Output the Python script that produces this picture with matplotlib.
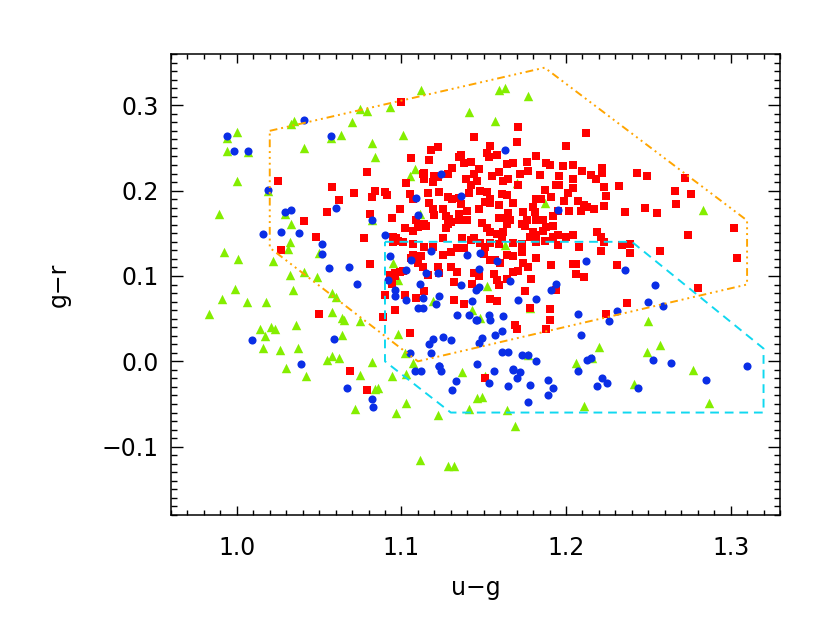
import numpy as np
import matplotlib
matplotlib.use('Agg')
import matplotlib.pyplot as plt
from matplotlib.ticker import MultipleLocator

# Cuadrados rojos (u-g, g-r)
red_ug = [1.025, 1.058, 1.079, 1.071, 1.062, 1.084, 1.082, 1.055, 1.081,
          1.100, 1.171, 1.144, 1.170, 1.200, 1.154, 1.122, 1.118, 1.152, 1.158,
          1.136, 1.135, 1.153, 1.106, 1.117, 1.182, 1.164, 1.168, 1.176, 1.188,
          1.190, 1.198, 1.204, 1.138, 1.142, 1.131, 1.147, 1.114, 1.120, 1.128,
          1.144, 1.155, 1.159, 1.172, 1.177, 1.184, 1.196, 1.204, 1.113, 1.114,
          1.119, 1.122, 1.103, 1.139, 1.142, 1.146, 1.162, 1.165, 1.171, 1.194,
          1.196, 1.204, 1.187, 1.090, 1.091, 1.123, 1.128, 1.131, 1.135, 1.141,
          1.148, 1.152, 1.154, 1.161, 1.164, 1.159, 1.168, 1.182, 1.185, 1.191,
          1.199, 1.201, 1.116, 1.117, 1.107, 1.105, 1.099, 1.119, 1.125, 1.136,
          1.140, 1.147, 1.151, 1.154, 1.165, 1.174, 1.180, 1.181, 1.202,
          1.212, 1.210, 1.222, 1.222, 1.215, 1.218, 1.223, 1.232, 1.243, 1.249,
          1.272, 1.266, 1.276, 1.224, 1.207, 1.211, 1.213, 1.217, 1.223, 1.209,
          1.236, 1.248, 1.255, 1.267,
          1.041, 1.048, 1.077, 1.027, 1.081, 1.050, 1.069, 1.079, 1.151,
          1.204, 1.219, 1.221, 1.223, 1.208, 1.221, 1.234, 1.239, 1.239, 1.257,
          1.274, 1.302, 1.304, 1.204, 1.206, 1.206, 1.211, 1.231, 1.280, 1.237,
          1.224,
          1.094, 1.120, 1.127, 1.129, 1.135, 1.135, 1.159, 1.161, 1.176, 1.182,
          1.186, 1.192, 1.195, 1.109, 1.114, 1.115, 1.128, 1.130, 1.140, 1.149,
          1.152, 1.154, 1.158, 1.162, 1.164, 1.166, 1.173, 1.175, 1.180, 1.182,
          1.186, 1.188, 1.192, 1.195, 1.102, 1.107, 1.110, 1.127, 1.095, 1.097,
          1.095, 1.098, 1.101, 1.107, 1.125, 1.134, 1.137, 1.142, 1.144, 1.148,
          1.151, 1.154, 1.159, 1.161, 1.168, 1.173, 1.178, 1.182, 1.187, 1.192,
          1.195, 1.200, 1.107, 1.106, 1.112, 1.110, 1.113, 1.114, 1.119, 1.125,
          1.130, 1.138, 1.150, 1.154, 1.157, 1.160, 1.164, 1.168, 1.173, 1.174,
          1.177, 1.182, 1.191, 1.122, 1.130, 1.093, 1.096, 1.099, 1.101, 1.094,
          1.096, 1.094, 1.116, 1.123, 1.134, 1.144, 1.147, 1.156, 1.158, 1.159,
          1.164, 1.168, 1.171, 1.179, 1.132, 1.143, 1.102, 1.109, 1.114, 1.090,
          1.096, 1.089, 1.132, 1.138, 1.154, 1.158, 1.175, 1.178, 1.190, 1.194,
          1.190, 1.169, 1.170, 1.188, 1.105]
red_gr = [0.211, 0.204, 0.222, 0.197, 0.189, 0.199, 0.193, 0.175, 0.172,
          0.304, 0.275, 0.263, 0.257, 0.252, 0.252, 0.251, 0.248, 0.244, 0.242,
          0.242, 0.239, 0.239, 0.238, 0.236, 0.241, 0.231, 0.232, 0.233, 0.232,
          0.230, 0.229, 0.230, 0.232, 0.233, 0.227, 0.225, 0.221, 0.217, 0.219,
          0.219, 0.217, 0.222, 0.220, 0.223, 0.218, 0.217, 0.213, 0.219, 0.213,
          0.210, 0.216, 0.209, 0.213, 0.207, 0.211, 0.211, 0.214, 0.206, 0.207,
          0.206, 0.203, 0.201, 0.198, 0.195, 0.198, 0.193, 0.190, 0.191, 0.197,
          0.199, 0.198, 0.190, 0.196, 0.195, 0.183, 0.185, 0.190, 0.190, 0.193,
          0.188, 0.197, 0.197, 0.186, 0.190, 0.196, 0.178, 0.179, 0.178, 0.184,
          0.176, 0.178, 0.187, 0.186, 0.174, 0.175, 0.181, 0.175, 0.176,
          0.267, 0.223, 0.226, 0.221, 0.218, 0.214, 0.204, 0.205, 0.221, 0.217,
          0.215, 0.200, 0.196, 0.194, 0.188, 0.183, 0.181, 0.179, 0.182, 0.176,
          0.175, 0.180, 0.174, 0.184,
          0.164, 0.146, 0.145, 0.130, 0.114, 0.056, -0.011, -0.033, -0.019,
          0.148, 0.152, 0.146, 0.140, 0.134, 0.129, 0.136, 0.137, 0.127, 0.129,
          0.148, 0.156, 0.121, 0.114, 0.114, 0.102, 0.099, 0.113, 0.086, 0.068,
          0.056,
          0.168, 0.171, 0.170, 0.167, 0.172, 0.166, 0.168, 0.168, 0.166, 0.166,
          0.166, 0.170, 0.176, 0.165, 0.161, 0.158, 0.161, 0.163, 0.166, 0.162,
          0.156, 0.152, 0.149, 0.151, 0.161, 0.165, 0.161, 0.158, 0.152, 0.148,
          0.153, 0.157, 0.158, 0.148, 0.156, 0.153, 0.157, 0.156, 0.146, 0.145,
          0.140, 0.141, 0.140, 0.138, 0.144, 0.133, 0.144, 0.142, 0.145, 0.139,
          0.134, 0.139, 0.138, 0.144, 0.139, 0.138, 0.146, 0.140, 0.141, 0.146,
          0.136, 0.146, 0.125, 0.121, 0.123, 0.115, 0.111, 0.134, 0.134, 0.125,
          0.128, 0.133, 0.126, 0.119, 0.119, 0.115, 0.125, 0.123, 0.128, 0.115,
          0.111, 0.121, 0.113, 0.111, 0.110, 0.101, 0.103, 0.105, 0.106, 0.095,
          0.100, 0.091, 0.101, 0.103, 0.105, 0.103, 0.100, 0.102, 0.095, 0.089,
          0.096, 0.105, 0.106, 0.096, 0.093, 0.091, 0.078, 0.074, 0.082, 0.078,
          0.060, 0.052, 0.072, 0.067, 0.073, 0.071, 0.082, 0.062, 0.061, 0.084,
          0.049, 0.043, 0.038, 0.038, 0.033]

# Circulos azules
blue_ug = [1.041, 0.994, 1.057, 0.998, 1.007, 1.019, 1.029, 1.033, 1.060,
           1.163, 1.124, 1.136, 1.109, 1.195, 1.110,
           1.016, 1.027, 1.038, 1.052, 1.052, 1.056, 1.068, 1.073, 1.009, 1.059,
           1.039, 1.082,
           1.067, 1.082, 1.083,
           1.108, 1.112, 1.123, 1.124, 1.133, 1.131, 1.156, 1.153, 1.168, 1.172,
           1.170, 1.165, 1.178, 1.177, 1.189, 1.192, 1.189,
           1.207, 1.219, 1.222, 1.225, 1.244, 1.285, 1.310,
           1.212, 1.236, 1.254, 1.250, 1.259, 1.231, 1.226, 1.207, 1.209, 1.215,
           1.213, 1.253, 1.264,
           1.090, 1.093, 1.118, 1.140, 1.148, 1.158, 1.106, 1.103, 1.115, 1.122,
           1.147, 1.092, 1.111, 1.136, 1.145, 1.147, 1.166, 1.194, 1.191, 1.096,
           1.096, 1.103, 1.113, 1.123, 1.121, 1.110, 1.113, 1.143, 1.171, 1.182,
           1.134, 1.141, 1.145, 1.146, 1.153, 1.154, 1.162, 1.161, 1.157, 1.149,
           1.147, 1.125, 1.130, 1.119, 1.117, 1.118, 1.105, 1.161, 1.165, 1.173,
           1.177, 1.182, 1.123, 1.146, 1.168]
blue_gr = [0.283, 0.264, 0.264, 0.246, 0.246, 0.201, 0.175, 0.177, 0.180,
           0.248, 0.220, 0.194, 0.191, 0.177, 0.171,
           0.149, 0.151, 0.150, 0.137, 0.126, 0.109, 0.111, 0.091, 0.025, 0.026,
           -0.003, 0.166,
           -0.031, -0.044, -0.054,
           -0.011, -0.011, -0.006, -0.011, -0.023, -0.034, -0.011, -0.025, -0.010,
           -0.013, -0.019, -0.029, -0.028, -0.048, -0.022, -0.031, -0.040,
           -0.011, -0.029, -0.020, -0.025, -0.031, -0.022, -0.005,
           0.117, 0.107, 0.090, 0.069, 0.065, 0.059, 0.047, 0.055, 0.031, 0.004,
           0.001, 0.001, -0.002,
           0.148, 0.123, 0.129, 0.124, 0.127, 0.118, 0.119, 0.107, 0.103, 0.104,
           0.108, 0.095, 0.091, 0.089, 0.084, 0.087, 0.094, 0.091, 0.084, 0.084,
           0.077, 0.072, 0.074, 0.077, 0.067, 0.062, 0.062, 0.071, 0.072, 0.073,
           0.054, 0.054, 0.049, 0.048, 0.054, 0.049, 0.053, 0.036, 0.031, 0.027,
           0.022, 0.029, 0.025, 0.026, 0.020, 0.010, 0.010, 0.011, 0.011, 0.008,
           0.008, 0.000, -0.005, -0.003, -0.009]

# Triangulos verdes
green_ug = [1.000, 1.035, 1.033, 1.075, 1.079, 1.070, 1.063, 1.041, 0.994,
            1.007, 1.082, 1.084, 1.000, 0.989, 1.019, 0.994, 1.057,
            1.112, 1.093, 1.159, 1.163, 1.177, 1.141, 1.157, 1.101, 1.108, 1.105,
            1.170, 1.187, 1.283,
            1.033, 1.032, 1.031, 1.050, 0.992, 1.001, 1.022, 1.032, 1.041, 1.049,
            0.999, 1.034, 0.991, 1.006, 1.018, 0.983, 1.058, 1.060, 1.058, 1.064,
            1.065, 1.075, 1.014, 1.021, 1.023, 1.036, 1.017, 1.064, 1.016, 1.026,
            1.037, 1.055, 1.058, 1.062, 1.082, 1.030, 1.029,
            1.042, 1.075, 1.084, 1.072,
            1.094, 1.103, 1.086, 1.103, 1.097, 1.122, 1.137, 1.141, 1.146, 1.149,
            1.164, 1.169, 1.111, 1.128, 1.132, 1.151,
            1.241, 1.277, 1.211, 1.287,
            1.250, 1.220, 1.257, 1.249, 1.206, 1.216,
            1.095, 1.098, 1.152, 1.119, 1.143, 1.148, 1.163, 1.178, 1.098, 1.102,
            1.107, 1.177, 1.082, 1.111]
green_gr = [0.269, 0.281, 0.278, 0.296, 0.293, 0.280, 0.265, 0.250, 0.246,
            0.245, 0.256, 0.239, 0.211, 0.172, 0.200, 0.262, 0.262,
            0.318, 0.298, 0.318, 0.320, 0.311, 0.292, 0.281, 0.265, 0.225, 0.217,
            0.209, 0.185, 0.177,
            0.161, 0.140, 0.131, 0.127, 0.128, 0.120, 0.117, 0.101, 0.105, 0.099,
            0.085, 0.084, 0.073, 0.069, 0.070, 0.055, 0.080, 0.075, 0.058, 0.051,
            0.049, 0.047, 0.038, 0.040, 0.038, 0.043, 0.030, 0.031, 0.016, 0.013,
            0.016, 0.001, 0.006, 0.004, -0.001, -0.008, 0.172,
            -0.017, -0.016, -0.032, -0.056,
            -0.017, -0.015, -0.031, -0.049, -0.061, -0.063, -0.012, -0.056, -0.043,
            -0.042, -0.057, -0.076, -0.116, -0.123, -0.123, -0.017,
            -0.027, -0.010, -0.052, -0.049,
            0.047, 0.017, 0.019, 0.011, -0.002, 0.004,
            0.115, 0.095, 0.088, 0.071, 0.060, 0.051, 0.136, 0.062, 0.032, 0.010,
            -0.002, 0.008, 0.165, 0.172]

# Regiones de seleccion
orange_ug = [1.02, 1.187, 1.31, 1.31, 1.11, 1.02, 1.02]
orange_gr = [0.27, 0.344, 0.165, 0.09, 0.0, 0.133, 0.27]
cyan_ug = [1.09, 1.24, 1.32, 1.32, 1.13, 1.09, 1.09]
cyan_gr = [0.14, 0.14, 0.015, -0.06, -0.06, 0.0, 0.14]

plt.rcParams['font.family'] = 'DejaVu Sans'
plt.rcParams['font.size'] = 17

fig = plt.figure(figsize=(8.3, 6.24), dpi=100)
ax = fig.add_axes([171 / 830, 109 / 624, 609 / 830, 461 / 624])

ax.scatter(green_ug, green_gr, s=46, marker='^', c='#84ee00', linewidths=0, zorder=2)
ax.scatter(red_ug, red_gr, s=28, marker='s', c='#ff0000', linewidths=0, zorder=3)
ax.scatter(blue_ug, blue_gr, s=34, marker='o', c='#0a2ee6', linewidths=0, zorder=4)

ax.plot(orange_ug, orange_gr, color='#ffa500', lw=1.4,
        linestyle=(0, (4, 2, 1, 2, 1, 2, 1, 2)), zorder=5)
ax.plot(cyan_ug, cyan_gr, color='#10d8f0', lw=1.4,
        linestyle=(0, (4.5, 3)), zorder=5)

ax.set_xlim(0.96, 1.33)
ax.set_ylim(-0.18, 0.36)
ax.xaxis.set_major_locator(MultipleLocator(0.1))
ax.xaxis.set_minor_locator(MultipleLocator(0.01))
ax.yaxis.set_major_locator(MultipleLocator(0.1))
ax.yaxis.set_minor_locator(MultipleLocator(0.01))
ax.set_xticks([1.0, 1.1, 1.2, 1.3])
ax.set_xticklabels(['1.0', '1.1', '1.2', '1.3'])
ax.set_yticks([-0.1, 0.0, 0.1, 0.2, 0.3])
ax.set_yticklabels(['\u22120.1', '0.0', '0.1', '0.2', '0.3'])

ax.tick_params(axis='x', which='major', direction='in', length=6.5, width=1,
               top=True, pad=15)
ax.tick_params(axis='x', which='minor', direction='in', length=3.3, width=1, top=True)
ax.tick_params(axis='y', which='major', direction='in', length=8.6, width=1,
               right=True, pad=9)
ax.tick_params(axis='y', which='minor', direction='in', length=4.3, width=1, right=True)
for sp in ax.spines.values():
    sp.set_linewidth(1.1)

ax.set_xlabel('u\u2212g', labelpad=12)
ax.set_ylabel('g\u2212r', labelpad=22)

fig.savefig('out.png', dpi=100)
